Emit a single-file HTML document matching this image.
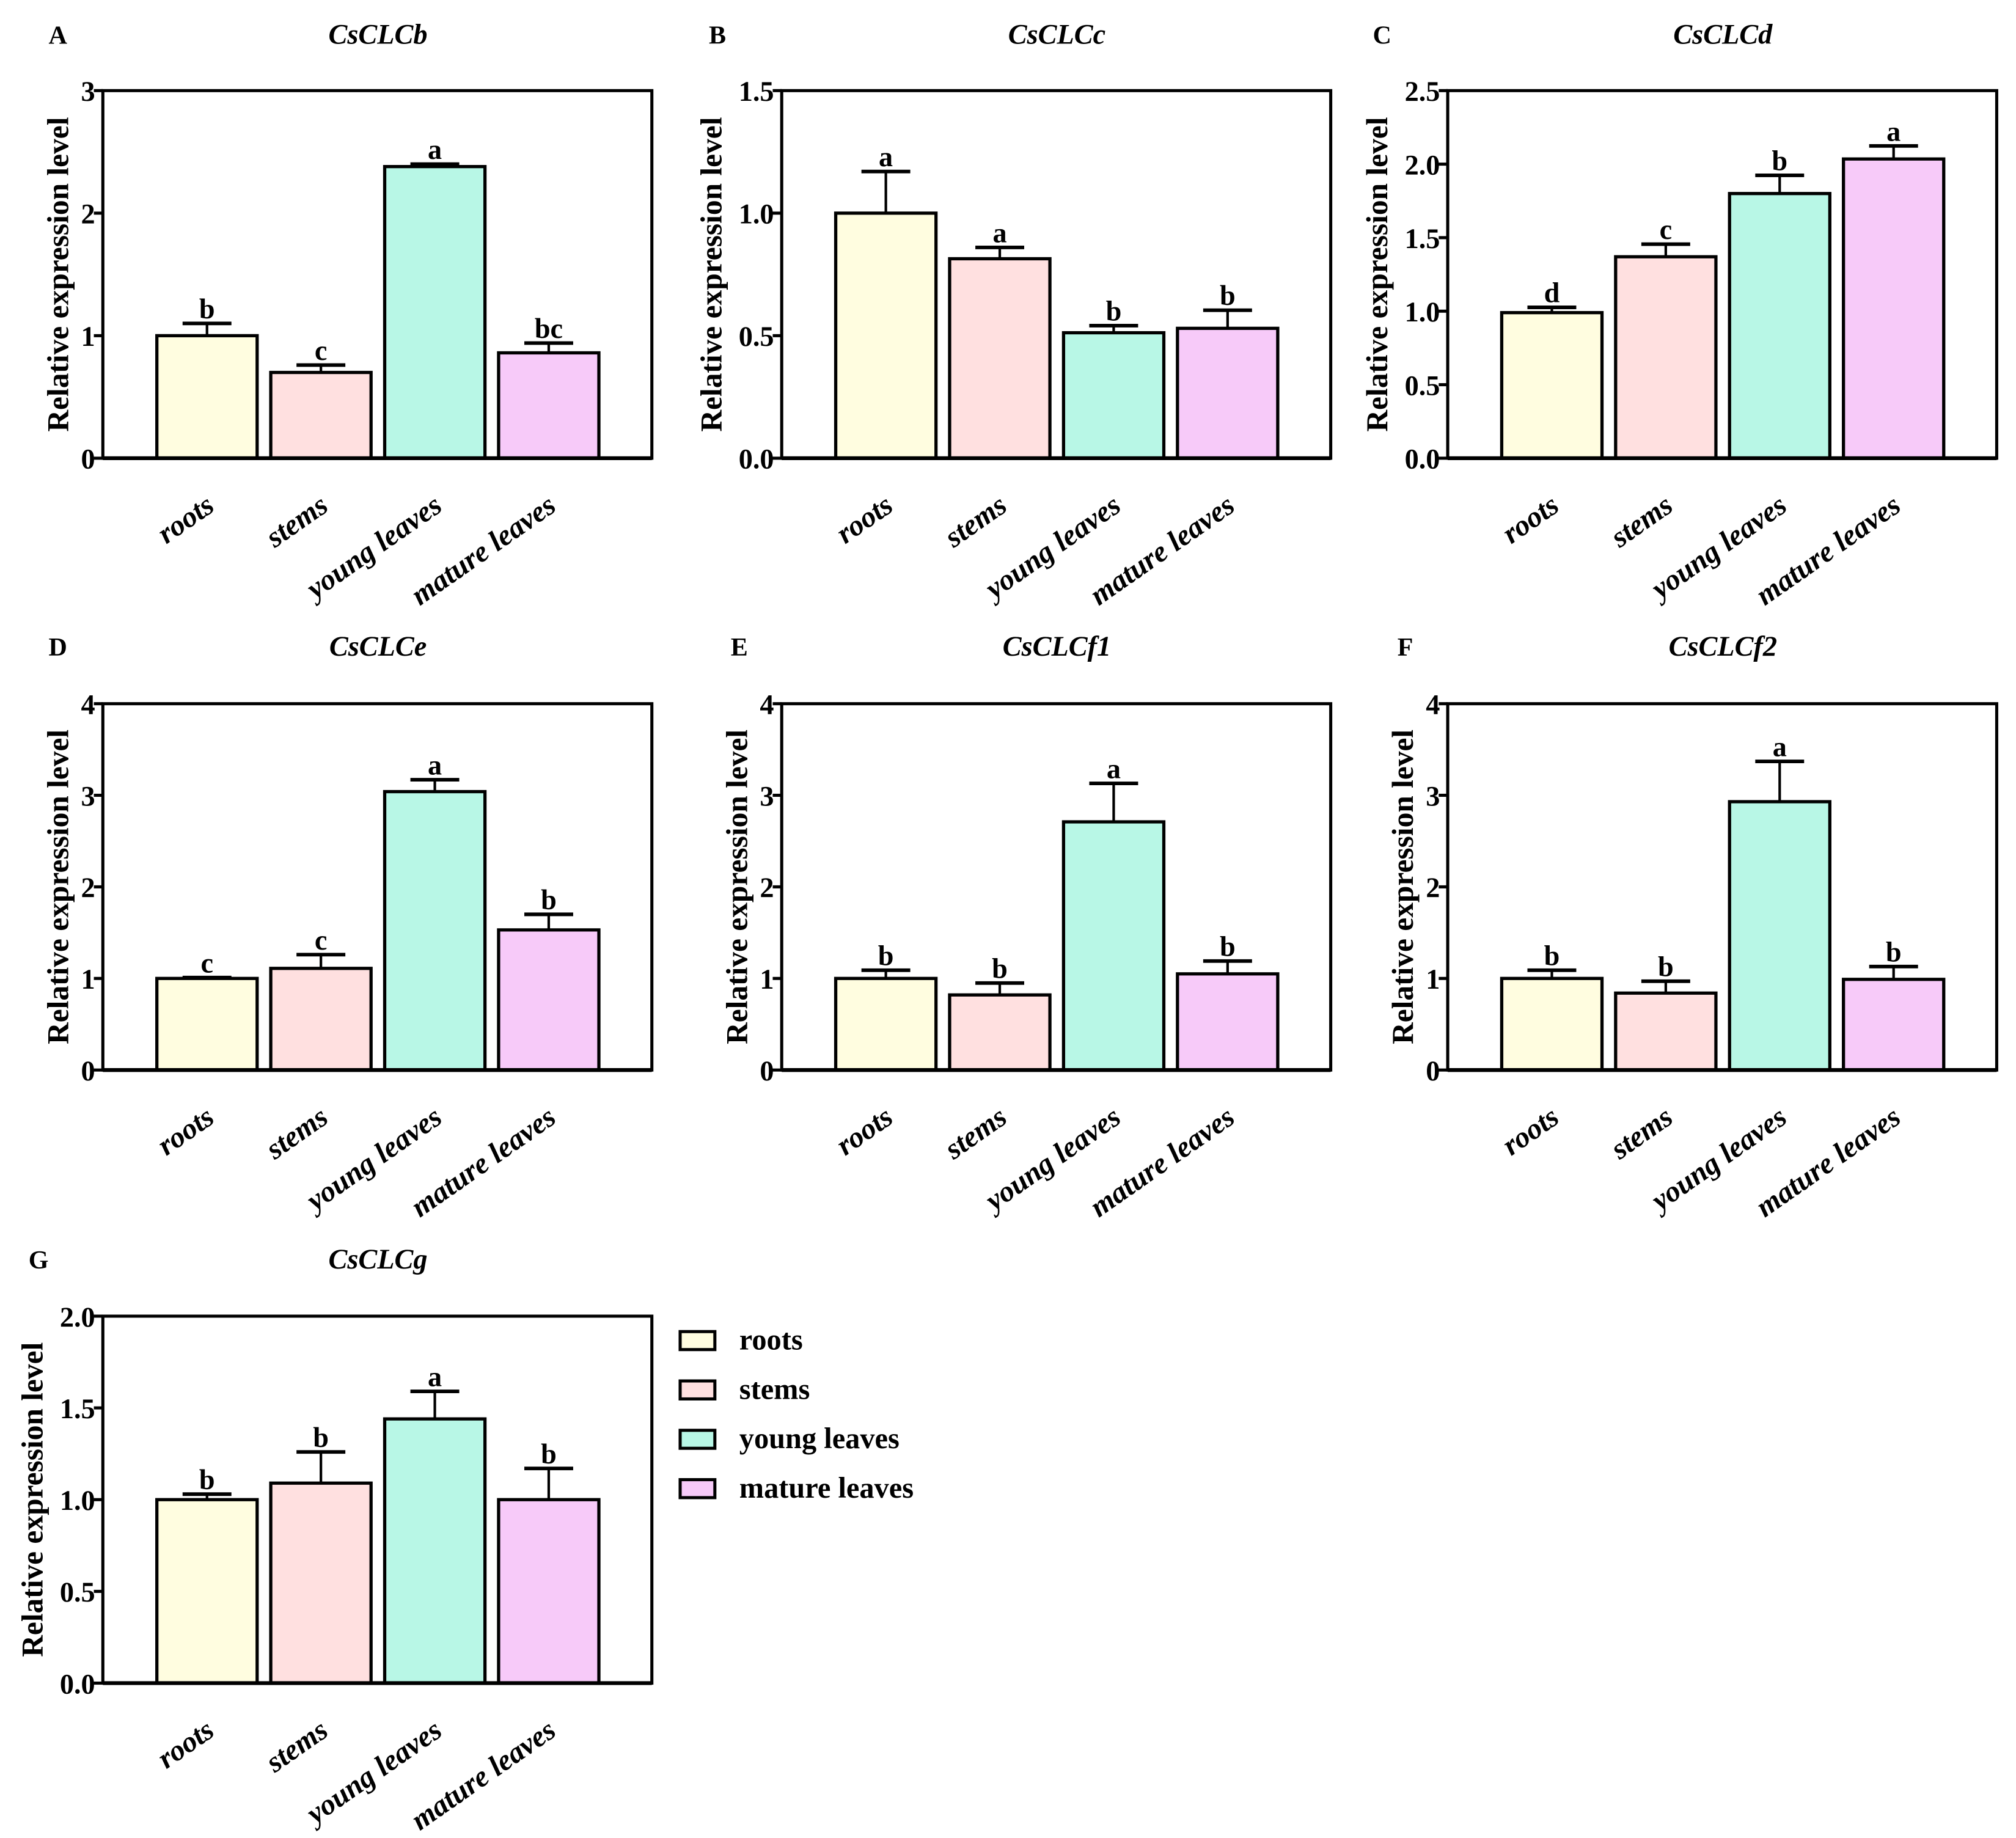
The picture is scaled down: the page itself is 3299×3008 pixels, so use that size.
<!DOCTYPE html>
<html><head><meta charset="utf-8"><style>
html,body{margin:0;padding:0;background:#fff;}
svg{display:block;font-family:"Liberation Serif","DejaVu Serif",serif;}
</style></head><body>
<svg id="fig" width="3299" height="3008" viewBox="0 0 1568 1430" preserveAspectRatio="none" xmlns="http://www.w3.org/2000/svg"></svg>
<script>
const categories = ["roots","stems","young leaves","mature leaves"];
const colors = ["#FFFDE0","#FFE0E0","#B8F7E6","#F7CAF9"];
const panelIds = ["A","B","C","D","E","F","G"];
const titles = ["CsCLCb","CsCLCc","CsCLCd","CsCLCe","CsCLCf1","CsCLCf2","CsCLCg"];
const valsA = [1.0,0.70,2.38,0.86];   const errA = [1.10,0.76,2.40,0.94]; const sigA = ["b","c","a","bc"];
const valsB = [1.0,0.814,0.512,0.53]; const errB = [1.17,0.86,0.541,0.604]; const sigB = ["a","a","b","b"];
const valsC = [0.99,1.37,1.80,2.035]; const errC = [1.026,1.456,1.924,2.124]; const sigC = ["d","c","b","a"];
const valsD = [1.0,1.11,3.04,1.53];   const errD = [1.01,1.26,3.17,1.70]; const sigD = ["c","c","a","b"];
const valsE = [1.0,0.82,2.71,1.05];   const errE = [1.09,0.95,3.13,1.19]; const sigE = ["b","b","a","b"];
const valsF = [1.0,0.84,2.93,0.99];   const errF = [1.09,0.97,3.37,1.13]; const sigF = ["b","b","a","b"];
const valsG = [1.0,1.09,1.44,1.0];    const errG = [1.03,1.26,1.59,1.17]; const sigG = ["b","b","a","b"];
const ticksA = ["0","1","2","3"];
const ticksB = ["0.0","0.5","1.0","1.5"];
const ticksC = ["0.0","0.5","1.0","1.5","2.0","2.5"];
const ticks4 = ["0","1","2","3","4"];
const ticksG = ["0.0","0.5","1.0","1.5","2.0"];

const NS="http://www.w3.org/2000/svg";
const svg=document.getElementById('fig');
function mk(tag,attrs,parent,txt){const e=document.createElementNS(NS,tag);for(const k in attrs)e.setAttribute(k,attrs[k]);if(txt!==undefined)e.textContent=txt;(parent||svg).appendChild(e);return e;}

const panels=[
 {x:80,top:70.5,bot:356.5,vals:valsA,err:errA,sig:sigA,ticks:ticksA,lx:45,ly:27,ytx:45},
 {x:608,top:70.5,bot:356.5,vals:valsB,err:errB,sig:sigB,ticks:ticksB,lx:558,ly:27,ytx:553},
 {x:1126,top:70.5,bot:356.5,vals:valsC,err:errC,sig:sigC,ticks:ticksC,lx:1075,ly:27,ytx:1071},
 {x:80,top:547.5,bot:832.5,vals:valsD,err:errD,sig:sigD,ticks:ticks4,lx:45,ly:503,ytx:45},
 {x:608,top:547.5,bot:832.5,vals:valsE,err:errE,sig:sigE,ticks:ticks4,lx:575,ly:503,ytx:573},
 {x:1126,top:547.5,bot:832.5,vals:valsF,err:errF,sig:sigF,ticks:ticks4,lx:1093,ly:503,ytx:1091},
 {x:80,top:1024,bot:1309.5,vals:valsG,err:errG,sig:sigG,ticks:ticksG,lx:30,ly:980,ytx:25}
];
const W=427;
panels.forEach((p,pi)=>{
  const g=mk('g',{});
  
  
  const maxV=parseFloat(p.ticks[p.ticks.length-1]);
  const y=v=>p.bot-(v/maxV)*(p.bot-p.top);
  const lab=mk('text',{x:p.lx,y:p.ly+7,'font-size':20,'font-weight':'bold','text-anchor':'middle'},g,panelIds[pi]);
  
  
  const t=mk('text',{x:p.x+214,y:p.ly+7,'font-size':22,'font-weight':'bold','font-style':'italic','text-anchor':'middle'},g,titles[pi]);
  
  
  const yt=mk('text',{x:0,y:0,'font-size':23.5,'font-weight':'bold','text-anchor':'middle',transform:`translate(${p.ytx+8},${(p.top+p.bot)/2}) rotate(-90)`},g,'Relative expression level');
  
  
  const slot=88.6, bw=78, x0=p.x+42;
  p.vals.forEach((v,i)=>{
    const cx=x0+slot*i+bw/2;
    const b=mk('rect',{x:cx-bw/2,y:y(v),width:bw,height:p.bot-y(v),fill:colors[i],stroke:'#000','stroke-width':2.5},g);
    
    
    const ey=y(p.err[i]);
    const el=mk('line',{x1:cx,x2:cx,y1:y(v),y2:ey,stroke:'#000','stroke-width':2},g);
    
    
    const cap=mk('line',{x1:cx-19,x2:cx+19,y1:ey,y2:ey,stroke:'#000','stroke-width':2.8},g);
    
    
    const s=mk('text',{x:cx,y:ey-4,'font-size':22,'font-weight':'bold','text-anchor':'middle'},g,p.sig[i]);
    
    
    const xl=mk('text',{x:0,y:0,'font-size':23,'font-weight':'bold','font-style':'italic','text-anchor':'end',transform:`translate(${cx+7},${p.bot+40}) rotate(-35)`},g,categories[i]);
    
    
  });
  const fr=mk('rect',{x:p.x,y:p.top,width:W,height:p.bot-p.top,fill:'none',stroke:'#000','stroke-width':2.4},g);
  
  
  mk('line',{x1:p.x,x2:p.x+W,y1:p.bot,y2:p.bot,stroke:'#000','stroke-width':3},g);
  p.ticks.forEach(tk=>{
    const ty=y(parseFloat(tk));
    mk('line',{x1:p.x-7,x2:p.x,y1:ty,y2:ty,stroke:'#000','stroke-width':2.4},g);
    const tl=mk('text',{x:p.x-6,y:ty+8,'font-size':22,'font-weight':'bold','text-anchor':'end'},g,tk);
    
    
  });
});
const lg=mk('g',{});


categories.forEach((c,i)=>{
  const cy=1043+38.4*i;
  const e=mk('g',{},lg);
  
  
  mk('rect',{x:529,y:cy-7,width:27,height:14,fill:colors[i],stroke:'#000','stroke-width':2.4},e);
  mk('text',{x:575,y:cy+7,'font-size':23,'font-weight':'bold'},e,c);
});
</script>
</body></html>
